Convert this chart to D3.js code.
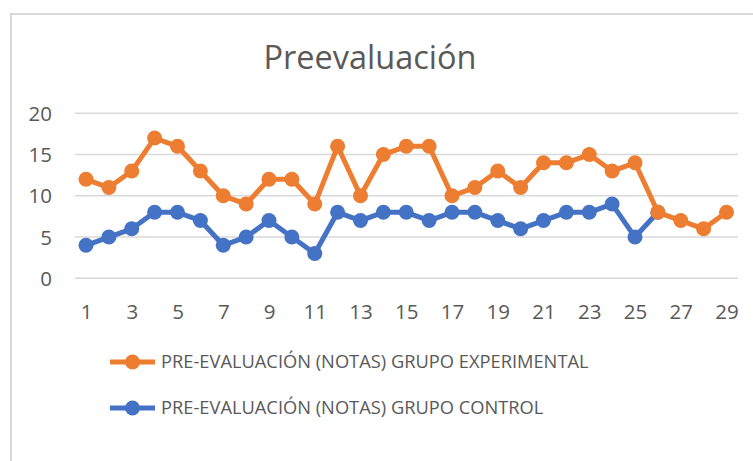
<!DOCTYPE html>
<html><head><meta charset="utf-8">
<script src="https://cdn.jsdelivr.net/npm/d3@7"></script>
<style>body{margin:0;background:#fff}svg{display:block}text{font-family:"Open Sans",sans-serif;fill:#595959}</style>
</head><body><svg id="c" width="753" height="461"></svg>
<script>
const title = "Preevaluación";
const experimentalName = "PRE-EVALUACIÓN (NOTAS) GRUPO EXPERIMENTAL";
const controlName = "PRE-EVALUACIÓN (NOTAS) GRUPO CONTROL";
const experimental = [12,11,13,17,16,13,10,9,12,12,9,16,10,15,16,16,10,11,13,11,14,14,15,13,14,8,7,6,8];
const control = [4,5,6,8,8,7,4,5,7,5,3,8,7,8,8,7,8,8,7,6,7,8,8,9,5,8];
const xTickLabels = [1,3,5,7,9,11,13,15,17,19,21,23,25,27,29];
const yTicks = [0,5,10,15,20];
const orange = "#ED7D31", blue = "#4472C4";

const svg = d3.select("#c");
// frame
svg.append("line").attr("x1",11).attr("x2",11).attr("y1",14).attr("y2",461).attr("stroke","#d9d9d9").attr("stroke-width",2);
svg.append("line").attr("x1",10).attr("x2",753).attr("y1",14).attr("y2",14).attr("stroke","#d9d9d9").attr("stroke-width",2);

svg.append("text").attr("x",370).attr("y",69).attr("text-anchor","middle").style("font-size","32.5px").text(title);

const x = d3.scaleLinear().domain([1,29]).range([86,726.5]);
const y = d3.scaleLinear().domain([0,20]).range([278.3,113.3]);

const grid = svg.append("g");
grid.selectAll("line").data(yTicks).join("line")
  .attr("x1",75).attr("x2",738).attr("y1",d=>y(d)).attr("y2",d=>y(d))
  .attr("stroke","#d9d9d9").attr("stroke-width",1.5);

const yAxis = svg.append("g").attr("transform","translate(52,0)")
  .call(d3.axisLeft(y).tickValues(yTicks).tickSize(0).tickPadding(0));
yAxis.select(".domain").remove();
yAxis.selectAll("text").style("font-size","20.5px").style("font-family","'Open Sans',sans-serif").attr("fill","#595959").attr("dy","0.35em");

const xAxis = svg.append("g").attr("transform","translate(0,312)")
  .call(d3.axisBottom(x).tickValues(xTickLabels).tickFormat(d3.format("d")).tickSize(0).tickPadding(0));
xAxis.select(".domain").remove();
xAxis.selectAll("text").style("font-size","20.5px").style("font-family","'Open Sans',sans-serif").attr("fill","#595959").attr("dy","0.35em");

const line = d3.line().x((d,i)=>x(i+1)).y(d=>y(d));
function series(data,color){
  const g = svg.append("g");
  g.append("path").datum(data).attr("d",line).attr("fill","none").attr("stroke",color).attr("stroke-width",5).attr("stroke-linejoin","round");
  g.selectAll("circle").data(data).join("circle").attr("cx",(d,i)=>x(i+1)).attr("cy",d=>y(d)).attr("r",7.5).attr("fill",color);
}
series(control,blue);
series(experimental,orange);

const legend = [{name:experimentalName,color:orange,y:362},{name:controlName,color:blue,y:408}];
const lg = svg.append("g");
legend.forEach(l=>{
  lg.append("line").attr("x1",110).attr("x2",155).attr("y1",l.y).attr("y2",l.y).attr("stroke",l.color).attr("stroke-width",5);
  lg.append("circle").attr("cx",132.5).attr("cy",l.y).attr("r",7.5).attr("fill",l.color);
  lg.append("text").attr("x",161).attr("y",l.y).attr("dy","0.35em").style("font-size","18.3px").text(l.name);
});
</script></body></html>
